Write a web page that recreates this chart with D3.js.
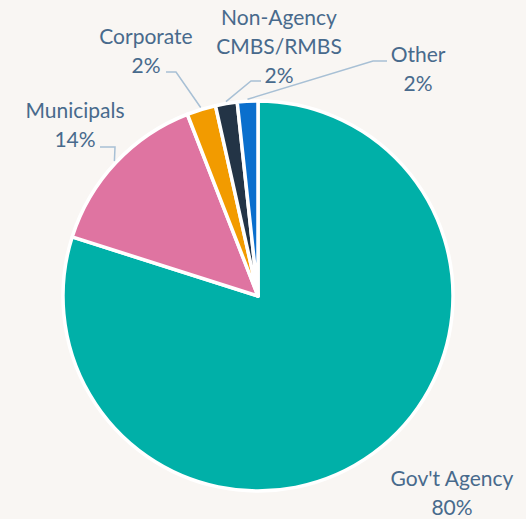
<!DOCTYPE html>
<html>
<head>
<meta charset="utf-8">
<script src="https://cdn.jsdelivr.net/npm/d3@7"></script>
<style>
  html, body { margin: 0; padding: 0; background: #f9f6f3; }
  svg { display: block; }
</style>
</head>
<body>
<div id="chart"></div>
<script>
// slice data, clockwise from 12 o'clock
const categories = ['Gov\'t Agency', 'Municipals', 'Corporate', 'Non-Agency CMBS/RMBS', 'Other'];
const labelLines = [['Gov\'t Agency'], ['Municipals'], ['Corporate'], ['Non-Agency', 'CMBS/RMBS'], ['Other']];
const values = [79.9, 14.2, 2.4, 1.8, 1.7];
const colors = ['#00b0a8', '#df74a1', '#f29b00', '#233446', '#0a6fcd'];

// label placement (anchor = centre of the last line's baseline) and leader elbow
const labelPos = [
    { x: 452, y: 515, elbow: null },
    { x: 75, y: 147, elbow: [115, 147], from: [100, 147] },
    { x: 146, y: 73, elbow: [176, 72], from: [166, 72] },
    { x: 279, y: 83, elbow: [251, 81], from: [261, 81] },
    { x: 418, y: 91, elbow: [373, 61], from: [387, 61] }
];

const width = 526;
const height = 519;
const cx = 258, cy = 296;
const radius = 195;
const textColor = '#486a8c';
const lineColor = '#a8c0d5';
const lineHeight = 29;

const svg = d3.select('#chart')
    .append('svg')
    .attr('width', width)
    .attr('height', height);

svg.append('rect')
    .attr('width', width)
    .attr('height', height)
    .attr('fill', '#f9f6f3');

const data = categories.map((c, i) => ({ name: c, value: values[i], i }));

const pie = d3.pie()
    .sort(null)
    .value(d => d.value)
    .startAngle(0)
    .endAngle(2 * Math.PI);

const arcs = pie(data);

const arc = d3.arc()
    .innerRadius(0)
    .outerRadius(radius);

const g = svg.append('g')
    .attr('transform', `translate(${cx},${cy})`);

g.selectAll('path')
    .data(arcs)
    .join('path')
    .attr('d', arc)
    .attr('fill', d => colors[d.data.i])
    .attr('stroke', '#ffffff')
    .attr('stroke-width', 3.5)
    .attr('stroke-linejoin', 'round');

// leader lines: from the label elbow to the slice edge at its mid angle
const edgePoint = (d, r) => {
    const a = (d.startAngle + d.endAngle) / 2;
    return [cx + Math.sin(a) * r, cy - Math.cos(a) * r];
};

arcs.forEach(d => {
    const p = labelPos[d.data.i];
    if (!p.elbow) return;
    const end = edgePoint(d, radius + 2);
    svg.append('path')
        .attr('d', d3.line()([p.from, p.elbow, end]))
        .attr('fill', 'none')
        .attr('stroke', lineColor)
        .attr('stroke-width', 1.5);
});

// labels
arcs.forEach(d => {
    const p = labelPos[d.data.i];
    const lines = labelLines[d.data.i].concat([Math.round(d.data.value) + '%']);
    const t = svg.append('text')
        .attr('text-anchor', 'middle')
        .style('font-family', 'Lato, "Open Sans", sans-serif')
        .style('font-size', '21px')
        .style('fill', textColor);
    lines.forEach((line, k) => {
        t.append('tspan')
            .attr('x', p.x)
            .attr('y', p.y - (lines.length - 1 - k) * lineHeight)
            .text(line);
    });
});
</script>
</body>
</html>
